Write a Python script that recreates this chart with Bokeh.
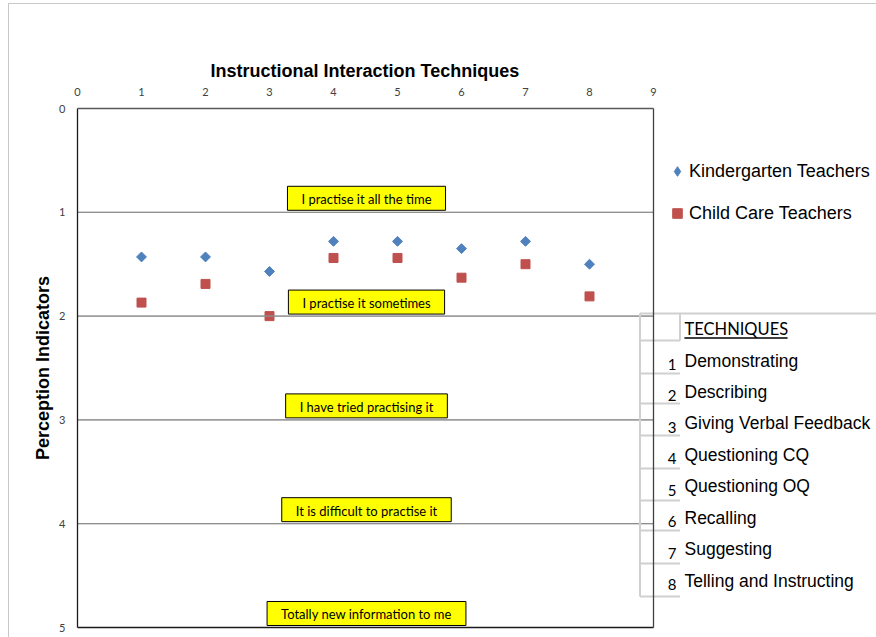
import math
from bokeh.plotting import figure
from bokeh.models import (Range1d, FixedTicker, Label, BoxAnnotation, Legend,
                          LegendItem, ColumnDataSource)
from bokeh.embed import file_html
from bokeh.resources import INLINE

# ---------------- data ----------------
technique_ids = [1, 2, 3, 4, 5, 6, 7, 8]
kindergarten = [1.43, 1.43, 1.57, 1.28, 1.28, 1.35, 1.28, 1.50]
child_care = [1.87, 1.69, 2.00, 1.44, 1.44, 1.63, 1.50, 1.81]
technique_names = ["Demonstrating", "Describing", "Giving Verbal Feedback",
                   "Questioning CQ", "Questioning OQ", "Recalling",
                   "Suggesting", "Telling and Instructing"]
indicator_labels = ["I practise it all the time", "I practise it sometimes",
                    "I have tried practising it", "It is difficult to practise it",
                    "Totally new information to me"]
indicator_levels = [1, 2, 3, 4, 5]
x_ticks = [0, 1, 2, 3, 4, 5, 6, 7, 8, 9]
y_ticks = [0, 1, 2, 3, 4, 5]
grid_levels = [1, 2, 3, 4]
x_max, y_max = 9, 5

BLUE = "#4F81BD"
RED = "#C0504D"

# ---------------- geometry (pixels) ----------------
W, H = 876, 637
PX_X0, PX_UX = 77.0, 64.0      # page x of value 0, pixels per x unit
PX_Y0, PX_UY = 108.0, 103.8    # page y of value 0, pixels per y unit
PAD = 2                        # frame padding so the border box is not clipped


def px_x(px):
    return (px - PX_X0) / PX_UX


def px_y(py):
    return (py - PX_Y0) / PX_UY


frame_left = PX_X0 - PAD
frame_top = PX_Y0 - PAD
frame_bottom = PX_Y0 + y_max * PX_UY + PAD

p = figure(width=W, height=H, output_backend="svg", toolbar_location=None,
           x_range=Range1d(px_x(frame_left), px_x(W)),
           y_range=Range1d(px_y(frame_bottom), px_y(frame_top)),
           x_axis_location="above",
           min_border_left=int(frame_left), min_border_right=0,
           min_border_top=int(frame_top), min_border_bottom=int(H - frame_bottom))
p.background_fill_color = "white"
p.border_fill_alpha = 0
p.outline_line_color = None
p.styles = {
    "background": "linear-gradient(#c8c8c8, #c8c8c8) 8px 3px / 1px 100% no-repeat, "
                  "linear-gradient(#c8c8c8, #c8c8c8) 8px 3px / 100% 1px no-repeat, white"
}

p.title.text = "Instructional Interaction Techniques"
p.title.text_font = "Liberation Sans"
p.title.text_font_size = "18px"
p.title.text_font_style = "bold"
p.title.text_color = "black"
p.title.align = "left"
p.title.offset = 135
p.title.standoff = 8

xa = p.xaxis[0]
xa.ticker = FixedTicker(ticks=x_ticks)
xa.axis_line_color = None
xa.major_label_standoff = 11

ya = p.yaxis[0]
ya.ticker = FixedTicker(ticks=y_ticks)
ya.axis_label = "Perception Indicators"
ya.axis_label_text_font = "Liberation Sans"
ya.axis_label_text_font_size = "18px"
ya.axis_label_text_font_style = "bold"
ya.axis_label_text_color = "black"
ya.axis_label_standoff = 3
ya.axis_line_color = None
ya.major_label_standoff = 10

for ax in (xa, ya):
    ax.major_tick_line_color = None
    ax.minor_tick_line_color = None
    ax.major_tick_out = 0
    ax.major_tick_in = 0
    ax.minor_tick_out = 0
    ax.major_label_text_font = "Lato"
    ax.major_label_text_font_size = "11px"
    ax.major_label_text_color = "#404040"

p.xgrid.visible = False
p.ygrid.visible = False


def hline(y, x0, x1, color, width=1.0):
    p.add_layout(BoxAnnotation(left=x0, right=x1, top=y, bottom=y, fill_color=None,
                               fill_alpha=0, line_color=color, line_alpha=1,
                               line_width=width))


def vline(x, y0, y1, color, width=1.0):
    p.add_layout(BoxAnnotation(left=x, right=x, top=y0, bottom=y1, fill_color=None,
                               fill_alpha=0, line_color=color, line_alpha=1,
                               line_width=width))


# horizontal grid lines, only across the plotting area
for lvl in grid_levels:
    hline(lvl, 0, x_max, "#8c8c8c")

# ---------------- techniques table lines ----------------
TABLE = "#d0d0d0"
col_l, col_r = px_x(639.5), px_x(679.5)
vline(col_l, px_y(313), px_y(596), TABLE, 2)
vline(col_r, px_y(313), px_y(340), TABLE, 2)
hline(px_y(313), col_l, px_x(880), TABLE, 2)
row_bounds = [340, 373, 403, 435, 468, 500, 530, 563, 596]
for b in row_bounds:
    hline(px_y(b), col_l, col_r, TABLE, 2)

# plot-area border
vline(0, 0, y_max, "#1a1a1a", 1.3)
hline(y_max, 0, x_max, "#1a1a1a", 1.3)
hline(0, 0, x_max, "#595959", 1.3)
vline(x_max, 0, y_max, "#404040", 1.3)

# ---------------- data marks ----------------
src = ColumnDataSource(dict(x=technique_ids, k=kindergarten, c=child_care))
rk = p.scatter("x", "k", source=src, marker="square", angle=math.pi / 4, size=7,
               fill_color=BLUE, line_color=BLUE)
rc = p.scatter("x", "c", source=src, marker="square", size=9,
               fill_color=RED, line_color=RED)
# hidden diamond twin of the Kindergarten series, used only as its legend swatch
# (legend glyphs ignore the marker angle of the rotated squares)
rk_swatch = p.scatter("x", "k", source=src, marker="diamond", size=10,
                      fill_color=BLUE, line_color=BLUE, visible=False)

# ---------------- legend ----------------
fb = frame_bottom
legend = Legend(items=[LegendItem(label="Kindergarten Teachers", renderers=[rk_swatch]),
                       LegendItem(label="Child Care Teachers", renderers=[rc])],
                location=(int(665 - frame_left), int(fb - 213 - 12)),
                glyph_width=24, glyph_height=24, label_height=24, label_width=20,
                label_standoff=0, spacing=18, padding=0, margin=0,
                border_line_color=None, background_fill_alpha=0,
                label_text_font="Liberation Sans", label_text_font_size="18px",
                label_text_color="black")
p.add_layout(legend, "center")

# ---------------- indicator boxes ----------------
for lvl, txt in zip(indicator_levels, indicator_labels):
    p.add_layout(Label(x=px_x(366), y=lvl - 0.135, text=txt, text_align="center",
                       text_baseline="middle", text_font="Lato", text_font_size="13px",
                       text_color="black", background_fill_color="#FFFF00",
                       border_line_color="black", border_line_width=1,
                       padding=dict(left=14, right=14, top=5, bottom=3)))

# ---------------- techniques table text ----------------
p.add_layout(Label(x=px_x(684), y=px_y(328), text="TECHNIQUES", text_align="left",
                   text_baseline="middle", text_font="Lato", text_font_size="16.5px",
                   text_color="black"))
hline(px_y(337.5), px_x(684), px_x(787), "black", 1)

row_top, row_step = 360.0, 31.43
for i, (num, name) in enumerate(zip(technique_ids, technique_names)):
    cy = row_top + i * row_step
    p.add_layout(Label(x=px_x(676), y=px_y(cy + 4), text=str(num), text_align="right",
                       text_baseline="middle", text_font="Lato", text_font_size="15px",
                       text_color="black"))
    p.add_layout(Label(x=px_x(684), y=px_y(cy), text=name, text_align="left",
                       text_baseline="middle", text_font="Liberation Sans",
                       text_font_size="17.5px", text_color="black"))

open("out.html", "w").write(file_html(p, INLINE))
